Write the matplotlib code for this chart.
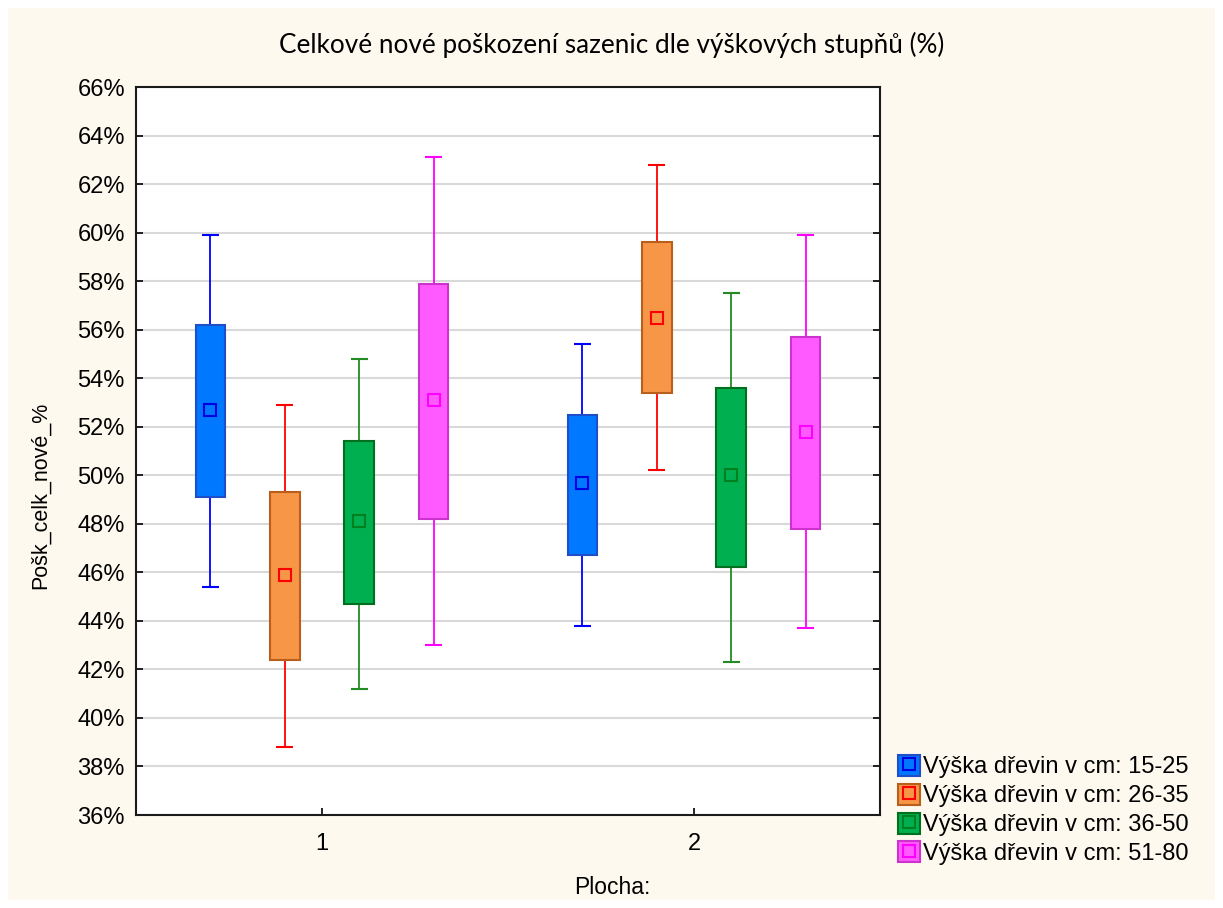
import matplotlib
matplotlib.use('Agg')
import matplotlib.pyplot as plt
import matplotlib.patches as mpatches
from matplotlib.lines import Line2D
from matplotlib.ticker import FuncFormatter
import numpy as np

# data (%)
plochy = [1, 2]
labels = ['Výška dřevin v cm: 15-25', 'Výška dřevin v cm: 26-35',
          'Výška dřevin v cm: 36-50', 'Výška dřevin v cm: 51-80']
means = [[52.7, 45.9, 48.1, 53.1],
         [49.7, 56.5, 50.0, 51.8]]
box_lo = [[49.1, 42.4, 44.7, 48.2],
          [46.7, 53.4, 46.2, 47.8]]
box_hi = [[56.2, 49.3, 51.4, 57.9],
          [52.5, 59.6, 53.6, 55.7]]
wh_lo = [[45.4, 38.8, 41.2, 43.0],
         [43.8, 50.2, 42.3, 43.7]]
wh_hi = [[59.9, 52.9, 54.8, 63.1],
         [55.4, 62.8, 57.5, 59.9]]

fills = ['#0078FF', '#F79646', '#00AF50', '#FF5AFF']
edges = ['#1F4FC8', '#B85F1C', '#00701E', '#CC33CC']
lines = ['#0000FF', '#FF0000', '#228B22', '#FF00FF']
marks = ['#0000E0', '#FF0000', '#00801E', '#FF00FF']
offsets = [-0.3, -0.1, 0.1, 0.3]
bw = 0.08
cap = 0.045

fig = plt.figure(figsize=(12.23, 9.08), dpi=100, facecolor='white')
fig.patches.append(mpatches.Rectangle((8/1223, 8/908), 1-16/1223, 1-16/908,
                                      transform=fig.transFigure, facecolor='#FEF9EE',
                                      edgecolor='none', zorder=-10))
ax = fig.add_axes([136/1223, 1-815/908, 744/1223, 728/908])
ax.set_facecolor('white')

for g, x0 in enumerate(plochy):
    for i in range(4):
        x = x0 + offsets[i]
        ax.vlines(x, wh_lo[g][i], wh_hi[g][i], color=lines[i], lw=1.3, zorder=2)
        ax.hlines([wh_lo[g][i], wh_hi[g][i]], x - cap/2, x + cap/2, color=lines[i], lw=1.5, zorder=2)
        ax.bar(x, box_hi[g][i] - box_lo[g][i], bottom=box_lo[g][i], width=bw,
               color=fills[i], edgecolor=edges[i], lw=1.5, zorder=3)
        ax.plot(x, means[g][i], marker='s', ms=9, mfc='none', mec=marks[i], mew=1.5, zorder=4)

ax.set_xlim(0.5, 2.5)
ax.set_ylim(36, 66)
ax.set_xticks(plochy)
ax.set_yticks(np.arange(36, 67, 2))
ax.yaxis.set_major_formatter(FuncFormatter(lambda v, p: '%d%%' % v))
ax.grid(axis='y', color='#D9D9D9', lw=1.5, zorder=0)
ax.set_axisbelow(True)
ax.tick_params(direction='in', length=5, width=1.2, right=True, labelsize=17, pad=8)
for lab in ax.get_xticklabels() + ax.get_yticklabels():
    lab.set_family('Liberation Sans')
ax.tick_params(axis='x', pad=13)
for s in ax.spines.values():
    s.set_linewidth(1.5)
    s.set_color('#1A1A1A')

fig.text(612/1223, 1-45/908, 'Celkové nové poškození sazenic dle výškových stupňů (%)',
         ha='center', va='center', fontsize=18.8, family='Lato')
fig.text(612/1223, 1-888/908, 'Plocha:', ha='center', va='center', fontsize=16.5, family='Liberation Sans')
fig.text(40/1223, 1-495/908, 'Pošk_celk_nové_%', ha='center', va='center', rotation=90,
         fontsize=15.5, family='Liberation Sans')

handles = []
for i in range(4):
    p = mpatches.Patch(facecolor=fills[i], edgecolor=edges[i], lw=1.5)
    m = Line2D([], [], marker='s', ls='none', ms=8, mfc='none', mec=marks[i], mew=1.5)
    handles.append((p, m))
fig.legend(handles, labels, loc='lower left', bbox_to_anchor=(898/1223, 1-865/908),
           frameon=False, handlelength=0.95, handleheight=1.0, handletextpad=0.1,
           labelspacing=0.22, borderaxespad=0, borderpad=0,
           prop={'family': 'Liberation Sans', 'size': 17})

fig.savefig('out.png', dpi=100, facecolor='white')
